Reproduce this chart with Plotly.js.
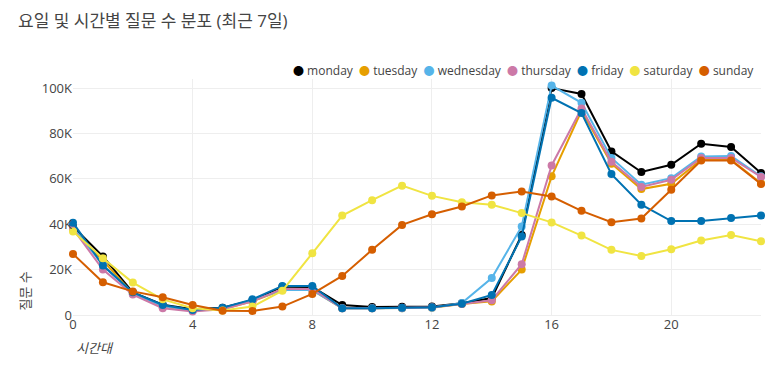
<!DOCTYPE html>
<html>
<head>
<meta charset="utf-8">
<script src="https://cdn.plot.ly/plotly-3.0.1.min.js"></script>
<style>html,body{margin:0;padding:0;background:#fff;}#chart{width:773px;height:376px;}</style>
</head>
<body>
<div id="chart"></div>
<script>
const hours = [0,1,2,3,4,5,6,7,8,9,10,11,12,13,14,15,16,17,18,19,20,21,22,23];
const dayNames = ["monday","tuesday","wednesday","thursday","friday","saturday","sunday"];
const dayColors = ["#000000","#E69F00","#56B4E9","#CC79A7","#0072B2","#F0E442","#D55E00"];
const monday    = [39000,25800,10000,4500,2500,3200,6500,12500,12300,4400,3500,3600,3800,5200,7500,35300,100000,97400,72100,63000,66200,75500,74000,62600];
const tuesday   = [38000,24000,9500,3500,2000,2500,6000,11000,11000,3000,3000,3000,3200,4800,6000,20000,61100,90000,66700,55500,57800,68400,68400,58100];
const wednesday = [38500,22000,9500,4000,2000,2800,6500,11000,11000,3000,3000,3000,3200,5300,16300,39000,101100,93500,69200,57400,60300,69900,70100,61100];
const thursday  = [38000,20000,9000,3000,1500,2500,6000,11500,11500,3000,3000,3200,3400,4800,6500,22400,65900,91000,67500,56400,59600,69200,69200,60800];
const friday    = [40700,21800,10000,4400,2200,3200,6900,12800,12800,3000,3000,3200,3400,5000,8800,34600,95700,89000,62100,48600,41400,41400,42800,43900];
const saturday  = [36800,25000,14300,6900,3000,2000,3700,10700,27200,43800,50600,57000,52500,49700,48600,44900,40800,35000,28700,26000,29000,32800,35200,32500];
const sunday    = [26900,14400,10400,7800,4400,1900,1800,3700,9300,17200,28700,39700,44400,47800,52700,54400,52200,45900,40900,42500,55200,68100,68100,57700];
const series = [monday,tuesday,wednesday,thursday,friday,saturday,sunday];
const yTickVals = [0,20000,40000,60000,80000,100000];
const yTickText = ["0","20K","40K","60K","80K","100K"];
const xTickVals = [0,4,8,12,16,20];
const titleText = "요일 및 시간별 질문 수 분포 (최근 7일)";
const xTitle = "시간대";
const yTitle = "질문 수";

const FONT = "'Open Sans', 'Noto Sans CJK KR', sans-serif";
const traces = series.map((vals, i) => ({
  x: hours, y: vals, name: dayNames[i], type: "scatter", mode: "lines+markers",
  line: {color: dayColors[i], width: 2},
  marker: {color: dayColors[i], size: 8},
  cliponaxis: false, showlegend: false
}));

// legend drawn as text: coloured dot + name for each day
const legendText = dayNames.map((n, i) =>
  `<span style="color:${dayColors[i]};font-size:11px">●</span> ${n}`).join("&nbsp;&nbsp;");

const layout = {
  width: 773, height: 376,
  margin: {l: 73, r: 12, t: 79, b: 61},
  paper_bgcolor: "#fff", plot_bgcolor: "#fff",
  font: {family: FONT, size: 13, color: "#444"},
  title: {text: titleText, x: 18/773, xanchor: "left", xref: "container", y: 1 - 21/376, yanchor: "middle", yref: "container",
          font: {family: FONT, size: 17, color: "#444"}},
  showlegend: false,
  xaxis: {range: [0, 23], tickvals: xTickVals, showgrid: true, gridcolor: "#eeeeee", zeroline: false, showline: false, ticks: "", tickfont: {size: 13, color: "#444"}},
  yaxis: {range: [0, 104000], tickvals: yTickVals, ticktext: yTickText, showgrid: true, gridcolor: "#eeeeee", zeroline: true, zerolinecolor: "#eeeeee", showline: false, ticks: "", tickfont: {size: 13, color: "#444"}},
  annotations: [
    {text: legendText, xref: "paper", yref: "paper", x: 1, xshift: -5, xanchor: "right", y: 1, yshift: 9, yanchor: "middle", showarrow: false,
     font: {family: FONT, size: 12, color: "#444"}},
    {text: xTitle, xref: "paper", yref: "paper", x: 0, xshift: 1, xanchor: "left", y: -0.14, yanchor: "middle", showarrow: false,
     font: {family: FONT, size: 13, color: "#444", style: "italic"}},
    {text: yTitle, xref: "paper", yref: "paper", x: -0.074, xshift: 3, xanchor: "center", y: 0.1, yanchor: "middle", textangle: -90, showarrow: false,
     font: {family: FONT, size: 13, color: "#444"}}
  ],
  hovermode: "closest"
};
Plotly.newPlot("chart", traces, layout, {displayModeBar: false, staticPlot: true});
</script>
</body>
</html>
